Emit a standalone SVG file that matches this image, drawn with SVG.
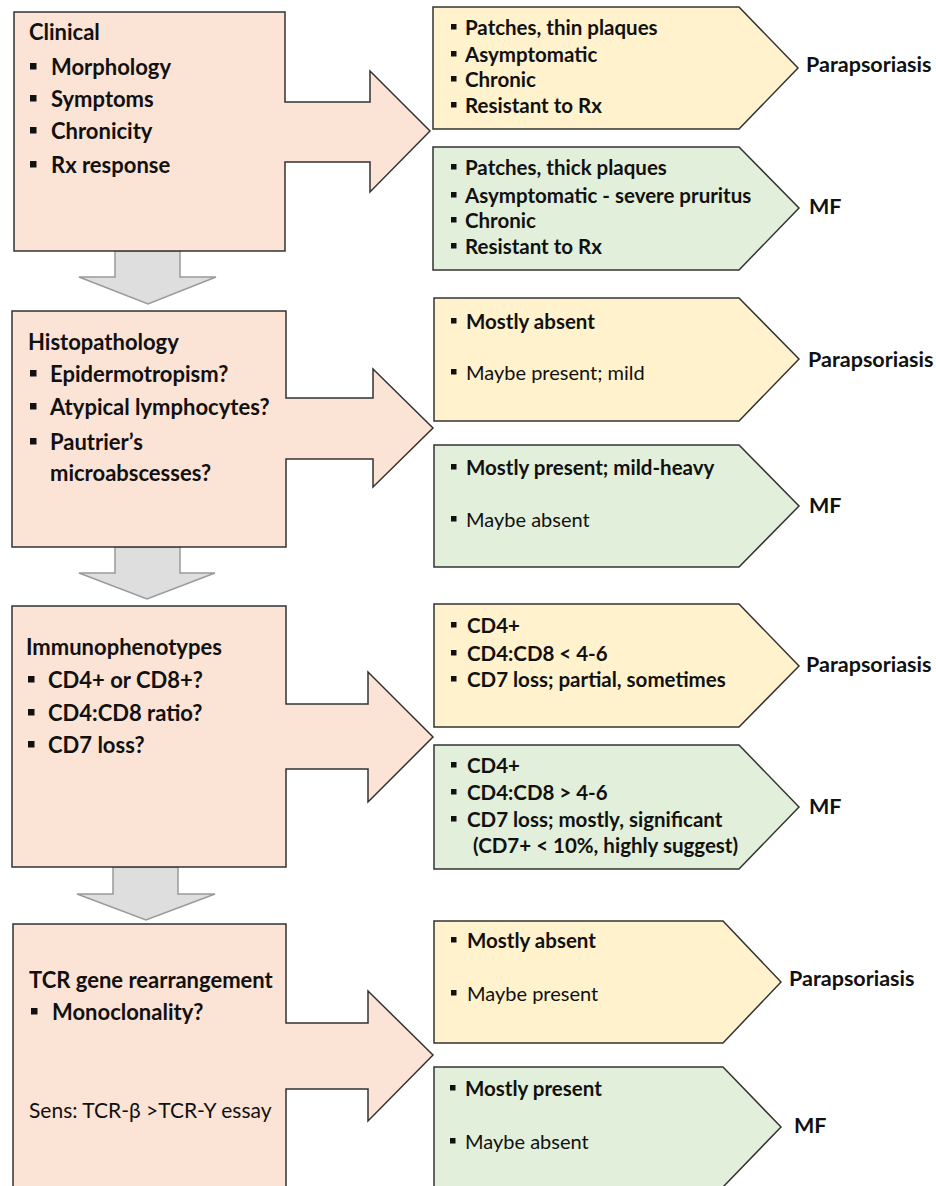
<svg xmlns="http://www.w3.org/2000/svg" width="936" height="1186" viewBox="0 0 936 1186">
<style>
text{font-family:Lato,"Liberation Sans",sans-serif;fill:#111}
.b{font-weight:bold}
.lt{font-size:22px;font-weight:bold}
.lr{font-size:21px}
.rt{font-size:20px}
.rb{font-size:20.5px;font-weight:bold}
.lab{font-size:21.5px;font-weight:bold}
.peach{fill:#fbe3d5;stroke:#333;stroke-width:1.5}
.yel{fill:#fff2cc;stroke:#333;stroke-width:1.5}
.grn{fill:#e2efda;stroke:#333;stroke-width:1.5}
.down{fill:#dedede;stroke:#9a9a9a;stroke-width:1.5}
.bl{fill:#111}
</style>
<rect width="936" height="1186" fill="#fff"/>
<g id="connectors">
<path class="down" d="M115,251 H180 V277 H216 L148,304 L79,277 H115 Z"/>
<path class="down" d="M115,547 H180 V573 H215 L147,599 L79,573 H115 Z"/>
<path class="down" d="M113,867 H178 V894 H215 L146,920 L77,894 H113 Z"/>
</g>
<g id="clinical">
<path class="peach" d="M14,12 H285 V102 H370 V71 L430,131 L370,192 V162 H285 V251 H14 Z"/>
<text class="lt" x="29" y="40">Clinical</text>
<rect class="bl" x="30" y="63" width="6.5" height="6.5"/><text class="lt" x="51" y="75">Morphology</text>
<rect class="bl" x="30" y="95" width="6.5" height="6.5"/><text class="lt" x="51" y="107">Symptoms</text>
<rect class="bl" x="30" y="127" width="6.5" height="6.5"/><text class="lt" x="51" y="139">Chronicity</text>
<rect class="bl" x="30" y="161" width="6.5" height="6.5"/><text class="lt" x="51" y="173">Rx response</text>
</g>
<g id="clinical-para">
<path class="yel" d="M433,7 H739 L798,68 L739,129 H433 Z"/>
<rect class="bl" x="451" y="24" width="5.5" height="5.5"/><text class="rb" x="465" y="35">Patches, thin plaques</text>
<rect class="bl" x="451" y="51" width="5.5" height="5.5"/><text class="rb" x="465" y="62">Asymptomatic</text>
<rect class="bl" x="451" y="76" width="5.5" height="5.5"/><text class="rb" x="465" y="87">Chronic</text>
<rect class="bl" x="451" y="102" width="5.5" height="5.5"/><text class="rb" x="465" y="113">Resistant to Rx</text>
<text class="lab" x="806" y="72">Parapsoriasis</text>
</g>
<g id="clinical-mf">
<path class="grn" d="M433,147 H739 L799,208 L739,270 H433 Z"/>
<rect class="bl" x="451" y="164" width="5.5" height="5.5"/><text class="rb" x="465" y="175">Patches, thick plaques</text>
<rect class="bl" x="451" y="192" width="5.5" height="5.5"/><text class="rb" x="465" y="203">Asymptomatic - severe pruritus</text>
<rect class="bl" x="451" y="217" width="5.5" height="5.5"/><text class="rb" x="465" y="228">Chronic</text>
<rect class="bl" x="451" y="243" width="5.5" height="5.5"/><text class="rb" x="465" y="254">Resistant to Rx</text>
<text class="lab" x="809" y="214">MF</text>
</g>
<g id="histopathology">
<path class="peach" d="M12,311 H286 V398 H373 V369 L433,428 L373,487 V459 H286 V547 H12 Z"/>
<text class="lt" x="28" y="350">Histopathology</text>
<rect class="bl" x="30" y="370" width="6.5" height="6.5"/><text class="lt" x="50" y="382">Epidermotropism?</text>
<rect class="bl" x="30" y="403" width="6.5" height="6.5"/><text class="lt" x="50" y="415">Atypical lymphocytes?</text>
<rect class="bl" x="30" y="438" width="6.5" height="6.5"/><text class="lt" x="50" y="450">Pautrier’s</text>
<text class="lt" x="50" y="481">microabscesses?</text>
</g>
<g id="histo-para">
<path class="yel" d="M434,298 H739 L799,359 L739,421 H434 Z"/>
<rect class="bl" x="451" y="318" width="5.5" height="5.5"/><text class="rb" x="466" y="329">Mostly absent</text>
<rect class="bl" x="451" y="369" width="5.5" height="5.5"/><text class="rt" x="466" y="380">Maybe present; mild</text>
<text class="lab" x="808" y="367">Parapsoriasis</text>
</g>
<g id="histo-mf">
<path class="grn" d="M434,445 H739 L799,506 L739,567 H434 Z"/>
<rect class="bl" x="451" y="464" width="5.5" height="5.5"/><text class="rb" x="466" y="475">Mostly present; mild-heavy</text>
<rect class="bl" x="451" y="516" width="5.5" height="5.5"/><text class="rt" x="466" y="527">Maybe absent</text>
<text class="lab" x="809" y="513">MF</text>
</g>
<g id="immunophenotypes">
<path class="peach" d="M12,606 H286 V704 H368 V672 L433,737 L368,802 V769 H286 V867 H12 Z"/>
<text class="lt" x="26" y="655">Immunophenotypes</text>
<rect class="bl" x="28" y="676" width="6.5" height="6.5"/><text class="lt" x="48" y="688">CD4+ or CD8+?</text>
<rect class="bl" x="28" y="709" width="6.5" height="6.5"/><text class="lt" x="48" y="721">CD4:CD8  ratio?</text>
<rect class="bl" x="28" y="741" width="6.5" height="6.5"/><text class="lt" x="48" y="753">CD7 loss?</text>
</g>
<g id="immuno-para">
<path class="yel" d="M434,604 H739 L799,666 L739,727 H434 Z"/>
<rect class="bl" x="451" y="622" width="5.5" height="5.5"/><text class="rb" x="467" y="633">CD4+</text>
<rect class="bl" x="451" y="650" width="5.5" height="5.5"/><text class="rb" x="467" y="661">CD4:CD8 &lt; 4-6</text>
<rect class="bl" x="451" y="676" width="5.5" height="5.5"/><text class="rb" x="467" y="687">CD7 loss; partial, sometimes</text>
<text class="lab" x="806" y="672">Parapsoriasis</text>
</g>
<g id="immuno-mf">
<path class="grn" d="M434,745 H739 L799,807 L739,869 H434 Z"/>
<rect class="bl" x="451" y="762" width="5.5" height="5.5"/><text class="rb" x="467" y="773">CD4+</text>
<rect class="bl" x="451" y="789" width="5.5" height="5.5"/><text class="rb" x="467" y="800">CD4:CD8 &gt; 4-6</text>
<rect class="bl" x="451" y="816" width="5.5" height="5.5"/><text class="rb" x="467" y="827">CD7 loss; mostly, significant</text>
<text class="rb" x="473" y="853">(CD7+ &lt; 10%, highly suggest)</text>
<text class="lab" x="809" y="814">MF</text>
</g>
<g id="tcr">
<path class="peach" d="M13,924 H286 V1023 H368 V991 L433,1055 L368,1121 V1089 H286 V1195 H13 Z"/>
<text class="lt" x="29" y="988">TCR gene rearrangement</text>
<rect class="bl" x="31" y="1008" width="6.5" height="6.5"/><text class="lt" x="52" y="1020">Monoclonality?</text>
<text class="lr" x="29" y="1118">Sens: TCR-β &gt;TCR-Y essay</text>
</g>
<g id="tcr-para">
<path class="yel" d="M434,921 H723 L781,982 L723,1043 H434 Z"/>
<rect class="bl" x="451" y="937" width="5.5" height="5.5"/><text class="rb" x="467" y="948">Mostly absent</text>
<rect class="bl" x="451" y="990" width="5.5" height="5.5"/><text class="rt" x="467" y="1001">Maybe present</text>
<text class="lab" x="789" y="986">Parapsoriasis</text>
</g>
<g id="tcr-mf">
<path class="grn" d="M434,1067 H723 L781,1127 L723,1187 H434 Z"/>
<rect class="bl" x="450" y="1085" width="5.5" height="5.5"/><text class="rb" x="465" y="1096">Mostly present</text>
<rect class="bl" x="450" y="1138" width="5.5" height="5.5"/><text class="rt" x="465" y="1149">Maybe absent</text>
<text class="lab" x="794" y="1133">MF</text>
</g>
</svg>
